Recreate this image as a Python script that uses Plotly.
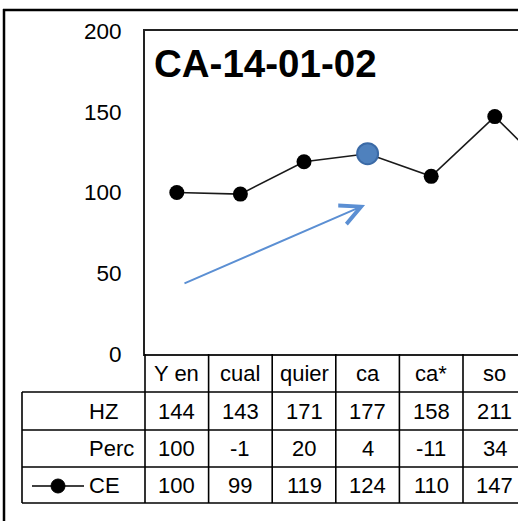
import plotly.graph_objects as go

# ---- data ----
categories = ["Y en", "cual", "quier", "ca", "ca*", "so"]
hz_values = [144, 143, 171, 177, 158, 211]
perc_values = [100, -1, 20, 4, -11, 34]
ce_values = [100, 99, 119, 124, 110, 147, 108]  # last point lies beyond the cropped right edge
highlight_index = 3
row_labels = ["HZ", "Perc", "CE"]
y_ticks = [0, 50, 100, 150, 200]
title_text = "CA-14-01-02"

# ---- geometry helpers (layout positions only) ----
# the figure is a bit larger than the 518x521 window so the chart is cropped like the reference
W, H = 545, 545
L, T = 145, 31
PLOT_BOTTOM = 354
B = H - PLOT_BOTTOM
PW = W - L
PH = H - T - B
COL = 63.6


def px(xp):
    return (xp - L) / PW


def py(yp):
    return (PLOT_BOTTOM - yp) / PH


FONT = "Liberation Sans, Arial, sans-serif"

fig = go.Figure()

x_idx = list(range(len(ce_values)))
fig.add_trace(go.Scatter(
    x=x_idx, y=ce_values, mode="lines+markers",
    line=dict(color="#1a1a1a", width=1.6),
    marker=dict(color="black", size=15),
    hoverinfo="skip", showlegend=False,
))
fig.add_trace(go.Scatter(
    x=[highlight_index], y=[ce_values[highlight_index]], mode="markers",
    marker=dict(color="#4f81bd", size=21, line=dict(color="#3b6aa6", width=2)),
    hoverinfo="skip", showlegend=False,
))

shapes = []
# outer border (cropped at right and bottom): top and left edges only
shapes.append(dict(type="line", xref="paper", yref="paper",
                   x0=px(3), x1=px(W + 20), y0=py(10), y1=py(10),
                   line=dict(color="black", width=2.5)))
shapes.append(dict(type="line", xref="paper", yref="paper",
                   x0=px(4), x1=px(4), y0=py(9), y1=py(H + 20),
                   line=dict(color="black", width=2.5)))

row_edges = [392, 430, 467, 503]
# horizontal table lines
for ye in row_edges:
    shapes.append(dict(type="line", xref="paper", yref="paper",
                       x0=px(22), x1=px(W + 20), y0=py(ye), y1=py(ye),
                       line=dict(color="black", width=1.6)))
# left table edge and row-label edge
shapes.append(dict(type="line", xref="paper", yref="paper",
                   x0=px(22), x1=px(22), y0=py(row_edges[0]), y1=py(row_edges[-1]),
                   line=dict(color="black", width=1.6)))
shapes.append(dict(type="line", xref="paper", yref="paper",
                   x0=0, x1=0, y0=0, y1=py(row_edges[-1]),
                   line=dict(color="black", width=1.6)))
# column dividers
for i in range(1, len(categories) + 1):
    shapes.append(dict(type="line", xref="x", yref="paper",
                       x0=i - 0.5, x1=i - 0.5, y0=0, y1=py(row_edges[-1]),
                       line=dict(color="black", width=1.6)))
# legend key in table
key_y = py(486)
shapes.append(dict(type="line", xref="paper", yref="paper",
                   x0=px(32), x1=px(84), y0=key_y, y1=key_y,
                   line=dict(color="black", width=1.6)))
shapes.append(dict(type="circle", xref="paper", yref="paper",
                   xsizemode="pixel", ysizemode="pixel",
                   xanchor=px(58), yanchor=key_y,
                   x0=-7, x1=7, y0=-7, y1=7,
                   fillcolor="black", line=dict(color="black", width=1)))

annotations = []
tfont = dict(family=FONT, size=22, color="black")
row_centers = [373, 411, 448.5, 485]
for i, c in enumerate(categories):
    annotations.append(dict(x=i, y=py(row_centers[0]), xref="x", yref="paper",
                            text=c, showarrow=False, font=tfont,
                            xanchor="center", yanchor="middle"))
for r, vals in enumerate([hz_values, perc_values, ce_values[:len(categories)]]):
    for i, v in enumerate(vals):
        annotations.append(dict(x=i, y=py(row_centers[r + 1]), xref="x", yref="paper",
                                text=str(v), showarrow=False, font=tfont,
                                xanchor="center", yanchor="middle"))
    annotations.append(dict(x=px(87), y=py(row_centers[r + 1]), xref="paper", yref="paper",
                            text=row_labels[r], showarrow=False, font=tfont,
                            xanchor="left", yanchor="middle"))

# title inside plot
annotations.append(dict(x=px(152), y=py(64), xref="paper", yref="paper",
                        text="<b>" + title_text + "</b>", showarrow=False,
                        font=dict(family=FONT, size=38.5, color="black"),
                        xanchor="left", yanchor="middle"))
# blue arrow
annotations.append(dict(x=2.96, y=92.3, xref="x", yref="y",
                        ax=0.097, ay=43.3, axref="x", ayref="y",
                        text="", showarrow=True, arrowhead=5,
                        arrowwidth=2, arrowsize=2.0, arrowcolor="#5b8fd3"))

fig.update_layout(
    width=W, height=H,
    margin=dict(l=L, r=0, t=T, b=B, pad=0),
    paper_bgcolor="white", plot_bgcolor="white",
    showlegend=False,
    shapes=shapes, annotations=annotations,
    xaxis=dict(range=[-0.5, -0.5 + PW / COL], showticklabels=False, ticks="",
               showgrid=False, zeroline=False, showline=True, mirror=True,
               linecolor="#222", linewidth=2),
    yaxis=dict(range=[0, 200], tickvals=y_ticks, ticks="", showgrid=False,
               zeroline=False, showline=True, linecolor="#222", linewidth=2,
               ticklabelstandoff=17,
               tickfont=dict(family=FONT, size=22.5, color="black")),
)

fig.write_html("out.html", config={"displayModeBar": False},
               post_script="document.body.style.margin='0';document.body.style.overflow='hidden';"
                           "document.documentElement.style.overflow='hidden';")
